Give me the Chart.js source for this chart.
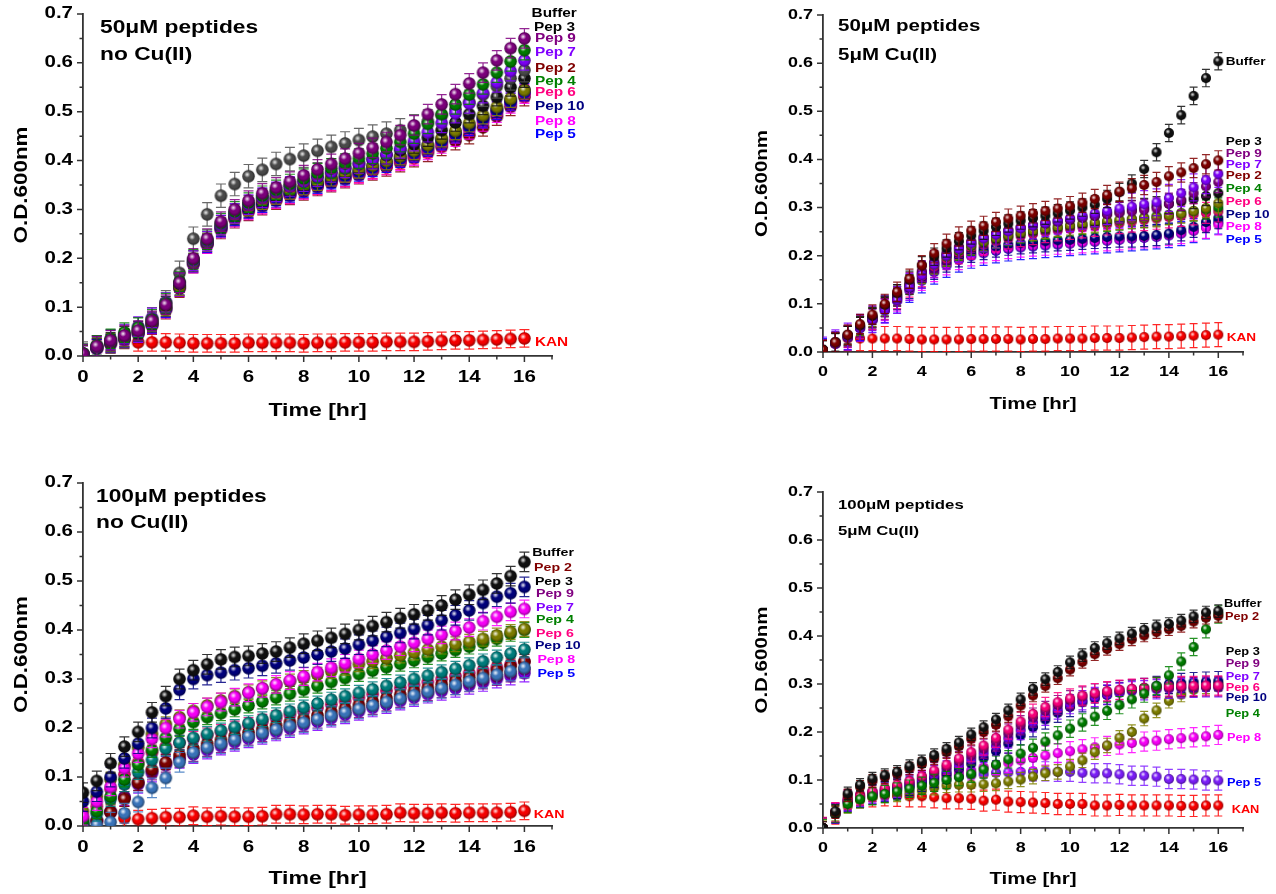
<!DOCTYPE html>
<html>
<head>
<meta charset="utf-8">
<title>Growth curves</title>
<script src="https://cdn.jsdelivr.net/npm/chart.js@4.4.1/dist/chart.umd.min.js"></script>
<style>
  html, body { margin: 0; padding: 0; background: #ffffff; }
  #wrap { position: relative; width: 1276px; height: 894px; overflow: hidden; background: #ffffff; }
  #wrap canvas { position: absolute; }
</style>
</head>
<body>
<div id="wrap">
  <canvas id="c50" width="620" height="440" style="left:0px;top:0px;width:620px;height:440px;"></canvas>
  <canvas id="c50cu" width="536" height="440" style="left:740px;top:0px;width:536px;height:440px;"></canvas>
  <canvas id="c100" width="620" height="447" style="left:0px;top:447px;width:620px;height:447px;"></canvas>
  <canvas id="c100cu" width="536" height="447" style="left:740px;top:447px;width:536px;height:447px;"></canvas>
</div>
<script>
// ---- sampling times (hours) and axis ticks ----
const hours = [0,0.5,1,1.5,2,2.5,3,3.5,4,4.5,5,5.5,6,6.5,7,7.5,8,8.5,9,9.5,10,10.5,11,11.5,12,12.5,13,13.5,14,14.5,15,15.5,16];
const xTickValues = [0,2,4,6,8,10,12,14,16];
const xMinorValues = [1,3,5,7,9,11,13,15,17];
const yTickValues = [0,0.1,0.2,0.3,0.4,0.5,0.6,0.7];
const yMinorValues = [0.05,0.15,0.25,0.35,0.45,0.55,0.65];

// ---- 50 uM peptides, no Cu(II): OD600 ----
const a_kan   = [null,null,null,null,0.028,0.028,0.028,0.027,0.026,0.026,0.026,0.026,0.027,0.027,0.027,0.027,0.026,0.027,0.027,0.028,0.028,0.028,0.029,0.029,0.029,0.030,0.031,0.032,0.032,0.033,0.034,0.035,0.036];
const a_pep2  = [0.003,0.015,0.024,0.033,0.045,0.062,0.094,0.138,0.188,0.228,0.258,0.280,0.295,0.307,0.318,0.328,0.337,0.346,0.354,0.362,0.370,0.378,0.386,0.395,0.405,0.416,0.428,0.440,0.452,0.468,0.490,0.510,0.530];
const a_pep8  = [0.003,0.015,0.025,0.035,0.046,0.064,0.096,0.140,0.188,0.228,0.260,0.282,0.297,0.309,0.320,0.330,0.339,0.348,0.356,0.364,0.372,0.380,0.389,0.398,0.408,0.420,0.433,0.447,0.462,0.478,0.496,0.515,0.535];
const a_pep6  = [0.003,0.016,0.026,0.036,0.048,0.066,0.098,0.140,0.190,0.230,0.262,0.284,0.299,0.311,0.321,0.331,0.340,0.349,0.357,0.365,0.373,0.381,0.390,0.400,0.411,0.424,0.438,0.453,0.468,0.485,0.502,0.520,0.538];
const a_pep5  = [0.003,0.016,0.026,0.036,0.047,0.065,0.097,0.141,0.190,0.230,0.262,0.285,0.300,0.312,0.323,0.333,0.342,0.351,0.360,0.368,0.376,0.385,0.394,0.404,0.415,0.427,0.440,0.454,0.469,0.485,0.502,0.520,0.540];
const a_pep10 = [0.004,0.017,0.027,0.037,0.049,0.067,0.099,0.143,0.192,0.232,0.264,0.287,0.302,0.315,0.326,0.336,0.345,0.354,0.363,0.371,0.380,0.389,0.398,0.408,0.419,0.431,0.444,0.458,0.473,0.489,0.506,0.524,0.545];
const a_pep1  = [0.004,0.018,0.028,0.038,0.050,0.068,0.100,0.142,0.192,0.232,0.266,0.289,0.305,0.318,0.329,0.339,0.348,0.357,0.366,0.374,0.382,0.390,0.399,0.409,0.420,0.432,0.446,0.461,0.477,0.493,0.510,0.527,0.544];
const a_pep3  = [0.005,0.019,0.030,0.042,0.053,0.072,0.104,0.148,0.197,0.236,0.270,0.293,0.310,0.324,0.336,0.347,0.357,0.366,0.375,0.384,0.393,0.402,0.411,0.421,0.433,0.447,0.462,0.478,0.495,0.512,0.530,0.550,0.568];
const a_buf   = [0.005,0.018,0.030,0.040,0.055,0.075,0.110,0.170,0.240,0.290,0.328,0.352,0.368,0.381,0.393,0.403,0.410,0.420,0.428,0.435,0.442,0.449,0.455,0.462,0.470,0.480,0.492,0.505,0.520,0.535,0.552,0.568,0.585];
const a_pep7  = [0.004,0.020,0.033,0.045,0.060,0.078,0.110,0.150,0.195,0.235,0.268,0.292,0.310,0.324,0.336,0.347,0.357,0.367,0.376,0.385,0.394,0.403,0.413,0.425,0.440,0.458,0.477,0.497,0.517,0.538,0.560,0.583,0.605];
const a_pep4  = [0.005,0.022,0.035,0.048,0.058,0.075,0.108,0.152,0.198,0.238,0.272,0.296,0.314,0.328,0.340,0.352,0.363,0.374,0.384,0.394,0.404,0.414,0.425,0.438,0.455,0.475,0.495,0.515,0.535,0.556,0.580,0.603,0.626];
const a_pep9  = [0.004,0.020,0.032,0.042,0.052,0.072,0.105,0.150,0.200,0.240,0.275,0.300,0.318,0.333,0.345,0.357,0.370,0.382,0.393,0.404,0.415,0.426,0.438,0.452,0.472,0.495,0.515,0.536,0.558,0.580,0.605,0.630,0.650];
const a_names  = ['KAN','Pep 2','Pep 8','Pep 6','Pep 5','Pep 10','Pep 1','Pep 3','Buffer','Pep 7','Pep 4','Pep 9'];
const a_values = [a_kan,a_pep2,a_pep8,a_pep6,a_pep5,a_pep10,a_pep1,a_pep3,a_buf,a_pep7,a_pep4,a_pep9];
const a_errors = [0.018,0.018,0.018,0.018,0.018,0.018,0.018,0.018,0.024,0.020,0.020,0.020];

// ---- 50 uM peptides, 5 uM Cu(II) ----
const b_kan   = [null,null,0.028,0.028,0.028,0.028,0.028,0.027,0.026,0.026,0.026,0.026,0.027,0.027,0.027,0.027,0.026,0.027,0.027,0.028,0.028,0.028,0.029,0.029,0.029,0.030,0.031,0.032,0.032,0.033,0.034,0.035,0.036];
const b_pep5  = [0.003,0.017,0.030,0.049,0.066,0.086,0.106,0.128,0.148,0.166,0.180,0.191,0.199,0.205,0.210,0.214,0.217,0.219,0.221,0.223,0.225,0.227,0.229,0.231,0.233,0.235,0.237,0.239,0.242,0.246,0.252,0.260,0.270];
const b_pep8  = [0.003,0.017,0.031,0.050,0.067,0.087,0.107,0.130,0.150,0.168,0.182,0.193,0.201,0.207,0.212,0.216,0.219,0.221,0.223,0.225,0.226,0.228,0.230,0.232,0.234,0.236,0.238,0.240,0.243,0.247,0.252,0.258,0.265];
const b_pep10 = [0.003,0.018,0.032,0.051,0.068,0.089,0.110,0.133,0.155,0.173,0.188,0.199,0.208,0.214,0.219,0.223,0.226,0.228,0.230,0.232,0.233,0.235,0.237,0.239,0.240,0.240,0.241,0.243,0.246,0.253,0.260,0.270,0.278];
const b_pep6  = [0.003,0.018,0.032,0.051,0.069,0.090,0.112,0.136,0.158,0.177,0.193,0.205,0.215,0.223,0.230,0.236,0.241,0.245,0.249,0.253,0.256,0.259,0.262,0.265,0.268,0.271,0.274,0.277,0.280,0.283,0.286,0.289,0.292];
const b_pep4  = [0.004,0.019,0.034,0.054,0.072,0.095,0.117,0.140,0.163,0.182,0.198,0.210,0.220,0.228,0.235,0.241,0.246,0.250,0.254,0.258,0.261,0.264,0.267,0.270,0.273,0.276,0.279,0.282,0.285,0.288,0.292,0.296,0.300];
const b_pep1  = [0.004,0.019,0.034,0.053,0.071,0.094,0.116,0.139,0.162,0.182,0.199,0.212,0.222,0.230,0.237,0.243,0.248,0.252,0.256,0.260,0.263,0.266,0.269,0.272,0.274,0.276,0.278,0.280,0.284,0.288,0.293,0.299,0.309];
const b_pep3  = [0.004,0.019,0.033,0.052,0.070,0.093,0.115,0.140,0.165,0.185,0.203,0.217,0.228,0.238,0.246,0.252,0.258,0.263,0.267,0.271,0.275,0.279,0.283,0.287,0.291,0.295,0.299,0.303,0.308,0.313,0.318,0.324,0.330];
const b_pep9  = [0.004,0.020,0.034,0.054,0.072,0.096,0.118,0.143,0.168,0.188,0.205,0.218,0.229,0.238,0.246,0.252,0.258,0.263,0.267,0.271,0.275,0.279,0.283,0.286,0.289,0.292,0.295,0.298,0.308,0.316,0.330,0.344,0.353];
const b_pep7  = [0.003,0.018,0.032,0.050,0.068,0.088,0.108,0.135,0.160,0.182,0.200,0.214,0.226,0.236,0.244,0.251,0.257,0.263,0.268,0.273,0.278,0.283,0.288,0.293,0.298,0.302,0.307,0.311,0.320,0.330,0.342,0.357,0.370];
const b_buf   = [0.005,0.020,0.035,0.055,0.075,0.098,0.122,0.150,0.180,0.198,0.215,0.230,0.242,0.252,0.260,0.267,0.273,0.278,0.283,0.288,0.294,0.300,0.306,0.318,0.332,0.350,0.380,0.415,0.455,0.492,0.532,0.569,0.604];
const b_pep2  = [0.004,0.020,0.036,0.058,0.078,0.100,0.125,0.152,0.180,0.205,0.225,0.240,0.252,0.262,0.270,0.277,0.283,0.288,0.293,0.298,0.303,0.310,0.318,0.326,0.333,0.340,0.347,0.353,0.365,0.373,0.382,0.390,0.398];
const b_names  = ['KAN','Pep 5','Pep 8','Pep 10','Pep 6','Pep 4','Pep 1','Pep 3','Pep 9','Pep 7','Buffer','Pep 2'];
const b_values = [b_kan,b_pep5,b_pep8,b_pep10,b_pep6,b_pep4,b_pep1,b_pep3,b_pep9,b_pep7,b_buf,b_pep2];
const b_errors = [0.025,0.025,0.022,0.022,0.022,0.020,0.020,0.020,0.022,0.028,0.018,0.020];

// ---- 100 uM peptides, no Cu(II) ----
const c_kan   = [null,null,0.029,0.016,0.014,0.016,0.018,0.018,0.021,0.019,0.020,0.019,0.019,0.020,0.024,0.024,0.023,0.024,0.024,0.022,0.023,0.023,0.024,0.027,0.026,0.026,0.027,0.026,0.027,0.027,0.027,0.028,0.031];
const c_pep6  = [0.015,0.040,0.075,0.105,0.130,0.150,0.162,0.170,0.178,0.185,0.192,0.199,0.206,0.213,0.220,0.227,0.234,0.241,0.248,0.255,0.262,0.269,0.276,0.282,0.288,0.294,0.300,0.306,0.312,0.318,0.324,0.330,0.336];
const c_pep7  = [0.002,0.010,0.028,0.060,0.085,0.108,0.124,0.136,0.146,0.155,0.163,0.171,0.178,0.185,0.192,0.199,0.206,0.213,0.220,0.227,0.234,0.241,0.248,0.255,0.262,0.269,0.275,0.281,0.287,0.293,0.300,0.306,0.312];
const c_pep9  = [0.003,0.012,0.030,0.058,0.090,0.112,0.128,0.138,0.150,0.160,0.168,0.176,0.183,0.190,0.197,0.204,0.211,0.218,0.225,0.232,0.239,0.246,0.253,0.260,0.267,0.274,0.280,0.286,0.292,0.298,0.305,0.312,0.320];
const c_pep2  = [0.002,0.010,0.028,0.055,0.088,0.115,0.130,0.145,0.158,0.168,0.176,0.184,0.191,0.198,0.205,0.212,0.219,0.226,0.233,0.240,0.247,0.254,0.261,0.268,0.275,0.282,0.289,0.296,0.303,0.310,0.318,0.326,0.335];
const c_pep5  = [0.000,0.002,0.008,0.026,0.049,0.078,0.098,0.130,0.150,0.160,0.168,0.176,0.183,0.190,0.197,0.204,0.211,0.218,0.225,0.232,0.239,0.246,0.253,0.260,0.267,0.274,0.281,0.288,0.295,0.302,0.309,0.316,0.323];
const c_pep3  = [0.008,0.025,0.055,0.085,0.110,0.135,0.158,0.170,0.180,0.188,0.195,0.202,0.210,0.218,0.226,0.234,0.242,0.250,0.258,0.265,0.272,0.279,0.286,0.293,0.300,0.307,0.314,0.321,0.328,0.336,0.344,0.352,0.360];
const c_pep4  = [0.010,0.030,0.060,0.095,0.125,0.155,0.180,0.198,0.212,0.222,0.230,0.238,0.246,0.254,0.262,0.270,0.278,0.286,0.294,0.302,0.310,0.317,0.324,0.331,0.338,0.345,0.352,0.359,0.366,0.374,0.382,0.392,0.400];
const c_pep1  = [0.030,0.060,0.095,0.125,0.160,0.188,0.208,0.222,0.235,0.246,0.256,0.265,0.273,0.281,0.288,0.295,0.302,0.309,0.316,0.323,0.330,0.336,0.342,0.348,0.354,0.360,0.366,0.371,0.376,0.382,0.389,0.396,0.402];
const c_pep8  = [0.020,0.050,0.080,0.118,0.148,0.178,0.200,0.218,0.232,0.243,0.253,0.263,0.272,0.281,0.289,0.297,0.305,0.314,0.323,0.332,0.341,0.350,0.358,0.366,0.374,0.382,0.390,0.398,0.405,0.418,0.427,0.437,0.443];
const c_pep10 = [0.050,0.070,0.100,0.138,0.168,0.200,0.240,0.278,0.300,0.308,0.313,0.318,0.322,0.327,0.332,0.338,0.344,0.350,0.356,0.362,0.370,0.378,0.386,0.394,0.402,0.410,0.420,0.430,0.440,0.455,0.468,0.475,0.488];
const c_buf   = [0.068,0.092,0.128,0.162,0.192,0.232,0.265,0.300,0.318,0.330,0.340,0.345,0.347,0.352,0.356,0.364,0.372,0.378,0.384,0.392,0.400,0.408,0.416,0.424,0.432,0.440,0.450,0.462,0.472,0.482,0.495,0.510,0.539];
const c_names  = ['KAN','Pep 6','Pep 7','Pep 9','Pep 2','Pep 5','Pep 3','Pep 4','Pep 1','Pep 8','Pep 10','Buffer'];
const c_values = [c_kan,c_pep6,c_pep7,c_pep9,c_pep2,c_pep5,c_pep3,c_pep4,c_pep1,c_pep8,c_pep10,c_buf];
const c_errors = [0.018,0.015,0.018,0.018,0.015,0.020,0.015,0.015,0.015,0.018,0.020,0.020];

// ---- 100 uM peptides, 5 uM Cu(II) ----
const d_kan   = [0.000,0.030,0.055,0.064,0.066,0.068,0.067,0.066,0.066,0.064,0.062,0.062,0.061,0.057,0.059,0.055,0.054,0.053,0.052,0.050,0.050,0.050,0.047,0.047,0.048,0.047,0.047,0.047,0.047,0.046,0.046,0.047,0.047];
const d_pep5  = [0.000,0.030,0.055,0.065,0.070,0.075,0.080,0.085,0.090,0.097,0.103,0.107,0.110,0.112,0.115,0.116,0.117,0.118,0.118,0.117,0.117,0.115,0.114,0.114,0.112,0.109,0.109,0.107,0.102,0.102,0.101,0.099,0.099];
const d_pep8  = [0.000,0.032,0.060,0.070,0.075,0.080,0.085,0.090,0.098,0.104,0.110,0.115,0.120,0.126,0.131,0.136,0.141,0.146,0.151,0.156,0.160,0.164,0.168,0.171,0.174,0.177,0.180,0.182,0.185,0.187,0.189,0.191,0.194];
const d_pep1  = [0.000,0.030,0.046,0.058,0.064,0.068,0.070,0.074,0.078,0.084,0.089,0.090,0.090,0.091,0.093,0.097,0.101,0.107,0.114,0.117,0.128,0.141,0.158,0.172,0.188,0.200,0.228,0.245,0.265,0.278,0.288,0.295,0.300];
const d_pep10 = [0.000,0.030,0.055,0.063,0.070,0.076,0.081,0.088,0.096,0.104,0.113,0.123,0.134,0.146,0.160,0.176,0.193,0.210,0.226,0.240,0.252,0.262,0.270,0.277,0.283,0.288,0.292,0.296,0.300,0.302,0.304,0.305,0.306];
const d_pep7  = [0.000,0.031,0.056,0.064,0.072,0.078,0.084,0.092,0.100,0.110,0.120,0.131,0.143,0.156,0.171,0.187,0.204,0.220,0.234,0.247,0.258,0.266,0.273,0.278,0.282,0.285,0.287,0.289,0.290,0.291,0.292,0.293,0.293];
const d_pep9  = [0.000,0.032,0.058,0.067,0.075,0.081,0.087,0.096,0.106,0.116,0.127,0.139,0.151,0.165,0.180,0.197,0.214,0.230,0.244,0.256,0.266,0.274,0.280,0.284,0.287,0.289,0.291,0.292,0.293,0.294,0.294,0.295,0.295];
const d_pep6  = [0.000,0.033,0.060,0.068,0.076,0.083,0.090,0.098,0.108,0.120,0.132,0.145,0.158,0.172,0.188,0.205,0.222,0.238,0.252,0.262,0.270,0.276,0.281,0.285,0.288,0.290,0.292,0.294,0.295,0.296,0.296,0.297,0.297];
const d_pep4  = [0.000,0.030,0.050,0.060,0.066,0.071,0.076,0.082,0.088,0.094,0.100,0.106,0.113,0.122,0.132,0.143,0.155,0.167,0.180,0.193,0.207,0.220,0.232,0.244,0.256,0.268,0.280,0.296,0.318,0.347,0.377,0.414,0.445];
const d_pep2  = [0.000,0.033,0.068,0.086,0.098,0.106,0.113,0.124,0.133,0.145,0.158,0.170,0.186,0.200,0.215,0.233,0.255,0.276,0.296,0.312,0.330,0.346,0.362,0.373,0.383,0.393,0.401,0.408,0.414,0.421,0.430,0.438,0.442];
const d_buf   = [0.000,0.035,0.072,0.090,0.103,0.110,0.117,0.129,0.139,0.152,0.165,0.178,0.195,0.210,0.226,0.245,0.268,0.290,0.310,0.325,0.345,0.360,0.375,0.385,0.395,0.405,0.413,0.420,0.425,0.432,0.441,0.449,0.452];
const d_names  = ['KAN','Pep 5','Pep 8','Pep 1','Pep 10','Pep 7','Pep 9','Pep 6','Pep 4','Pep 2','Buffer'];
const d_values = [d_kan,d_pep5,d_pep8,d_pep1,d_pep10,d_pep7,d_pep9,d_pep6,d_pep4,d_pep2,d_buf];
const d_errors = [0.022,0.020,0.020,0.015,0.020,0.020,0.020,0.020,0.018,0.013,0.013];

// ---- end-of-curve labels ----
const labelText = ['Buffer','Pep 3','Pep 9','Pep 7','Pep 2','Pep 4','Pep 6','Pep 10','Pep 8','Pep 5','KAN'];
const labelText100 = ['Buffer','Pep 2','Pep 3','Pep 9','Pep 7','Pep 4','Pep 6','Pep 10','Pep 8','Pep 5','KAN'];
const labelText100cu = ['Buffer','Pep 2','Pep 3','Pep 9','Pep 7','Pep 6','Pep 10','Pep 4','Pep 8','Pep 5','KAN'];

// ---------------- styling ----------------
const FONT = "'Liberation Sans', Arial, Helvetica, sans-serif";
const TEXT_STRETCH = 1.28;   // wide lettering
const AXIS_COLOR = '#333333';

const markerColor = {
  'Buffer': '#111111', 'Pep 1': '#808000', 'Pep 2': '#800000', 'Pep 3': '#111111',
  'Pep 4': '#008000', 'Pep 5': '#0000ff', 'Pep 6': '#ff0080', 'Pep 7': '#8000ff',
  'Pep 8': '#ff00ff', 'Pep 9': '#800080', 'Pep 10': '#000080', 'KAN': '#ff0000'
};
const labelColor = {
  'Buffer': '#000000', 'Pep 2': '#800000', 'Pep 3': '#000000', 'Pep 4': '#008000',
  'Pep 5': '#0000ff', 'Pep 6': '#ff0080', 'Pep 7': '#8000ff', 'Pep 8': '#ff00ff',
  'Pep 9': '#800080', 'Pep 10': '#000080', 'KAN': '#ff0000'
};

Chart.defaults.font.family = FONT;
Chart.defaults.font.weight = 'bold';
Chart.defaults.color = '#000';

// shaded sphere marker
function ball(color, r) {
  const s = Math.ceil(2 * r + 2);
  const c = document.createElement('canvas');
  c.width = s; c.height = s;
  const g = c.getContext('2d');
  const m = s / 2;
  g.beginPath(); g.arc(m, m, r, 0, Math.PI * 2);
  g.fillStyle = color; g.fill();
  const shade = g.createRadialGradient(m - r * 0.25, m - r * 0.3, r * 0.15, m, m, r);
  shade.addColorStop(0, 'rgba(0,0,0,0)');
  shade.addColorStop(0.65, 'rgba(0,0,0,0.06)');
  shade.addColorStop(1, 'rgba(0,0,0,0.45)');
  g.fillStyle = shade; g.fill();
  const hx = m - r * 0.22, hy = m - r * 0.28;
  const hi = g.createRadialGradient(hx, hy, 0, hx, hy, r * 0.5);
  hi.addColorStop(0, 'rgba(255,255,255,0.95)');
  hi.addColorStop(1, 'rgba(255,255,255,0)');
  g.fillStyle = hi; g.fill();
  return c;
}

// text drawn with horizontal stretch around its anchor point
function stretchText(ctx) {
  const fill = ctx.fillText.bind(ctx);
  ctx.fillText = function (text, x, y) {
    this.save();
    this.translate(x, y);
    this.scale(TEXT_STRETCH, 1);
    fill(text, 0, 0);
    this.restore();
  };
}

// vertical error bars, drawn just beneath each dataset's markers
function errorBars(cap) {
  return {
    id: 'errorBars',
    beforeDatasetDraw(chart, args) {
      const ds = chart.data.datasets[args.index];
      const { ctx, chartArea: a, scales: { x, y } } = chart;
      ctx.save();
      ctx.beginPath();
      ctx.rect(a.left, a.top, a.right - a.left, a.bottom - a.top);
      ctx.clip();
      ctx.strokeStyle = ds.errColor;
      ctx.globalAlpha = 0.85;
      ctx.lineWidth = 1.2;
      ctx.beginPath();
      ds.data.forEach(d => {
        if (d.y === null || d.y === undefined) return;
        const px = x.getPixelForValue(d.x);
        const t = y.getPixelForValue(d.y + ds.err);
        const b = y.getPixelForValue(d.y - ds.err);
        ctx.moveTo(px, t); ctx.lineTo(px, b);
        ctx.moveTo(px - cap, t); ctx.lineTo(px + cap, t);
        ctx.moveTo(px - cap, b); ctx.lineTo(px + cap, b);
      });
      ctx.stroke();
      ctx.restore();
    }
  };
}

// outward major/minor tick marks on both axes
const tickMarks = {
  id: 'tickMarks',
  afterDraw(chart) {
    const { ctx, chartArea: a, scales: { x, y } } = chart;
    ctx.save();
    ctx.strokeStyle = AXIS_COLOR;
    ctx.lineWidth = 1.5;
    ctx.beginPath();
    const xt = (v, len) => { const p = x.getPixelForValue(v); ctx.moveTo(p, a.bottom); ctx.lineTo(p, a.bottom + len); };
    const yt = (v, len) => { const p = y.getPixelForValue(v); ctx.moveTo(a.left, p); ctx.lineTo(a.left - len, p); };
    xTickValues.forEach(v => xt(v, 6));
    xMinorValues.forEach(v => xt(v, 3.5));
    yTickValues.forEach(v => yt(v, 6));
    yMinorValues.forEach(v => yt(v, 3.5));
    ctx.stroke();
    ctx.restore();
  }
};

// panel heading and colored series names
function annotate(p) {
  return {
    id: 'annotate',
    afterDraw(chart) {
      const { ctx, chartArea: a, scales: { x, y } } = chart;
      ctx.save();
      ctx.fillStyle = '#000';
      ctx.textAlign = 'left';
      ctx.textBaseline = 'alphabetic';
      ctx.font = `bold ${p.headSize}px ${FONT}`;
      p.heading.forEach((line, i) => ctx.fillText(line, a.left + p.headX, a.top + p.headY[i]));
      ctx.font = `bold ${p.labelSize}px ${FONT}`;
      ctx.textBaseline = 'middle';
      p.labels.forEach((t, i) => {
        ctx.fillStyle = labelColor[t];
        ctx.fillText(t, x.getPixelForValue(p.labelX[i]), y.getPixelForValue(p.labelY[i]));
      });
      ctx.restore();
    }
  };
}

function makePanel(p) {
  const canvas = document.getElementById(p.id);
  const ctx = canvas.getContext('2d');
  stretchText(ctx);
  const n = p.names.length;
  const datasets = p.names.map((name, i) => {
    const color = (p.colorOverride && p.colorOverride[name]) || markerColor[name];
    return {
      label: name,
      data: hours.map((h, k) => ({ x: h, y: p.values[i][k] })),
      err: p.errors[i],
      errColor: color,
      pointStyle: ball(color, p.r),
      pointRadius: p.r,
      pointHoverRadius: p.r,
      showLine: false,
      clip: 0,
      order: n - i
    };
  });
  return new Chart(ctx, {
    type: 'scatter',
    data: { datasets },
    options: {
      responsive: false,
      animation: false,
      events: [],
      layout: { padding: p.pad },
      plugins: { legend: { display: false }, tooltip: { enabled: false } },
      scales: {
        x: {
          type: 'linear', min: 0, max: 17,
          afterBuildTicks: s => { s.ticks = xTickValues.map(v => ({ value: v })); },
          afterFit: s => { s.height = p.xH; s.paddingLeft = 0; s.paddingRight = 0; },
          ticks: { autoSkip: false, maxRotation: 0, padding: p.xPad, color: '#000',
                   font: { size: p.tickSize, weight: 'bold', family: FONT },
                   callback: v => String(v) },
          grid: { display: false, drawTicks: false },
          border: { display: true, color: AXIS_COLOR, width: 1.8 },
          title: { display: true, text: 'Time [hr]', color: '#000', padding: 0,
                   font: { size: p.xTitleSize, weight: 'bold', family: FONT } }
        },
        y: {
          type: 'linear', min: 0, max: 0.7,
          afterBuildTicks: s => { s.ticks = yTickValues.map(v => ({ value: v })); },
          afterFit: s => { s.width = p.yW; s.paddingTop = 0; s.paddingBottom = 0; },
          ticks: { autoSkip: false, padding: 10, color: '#000',
                   font: { size: p.tickSize, weight: 'bold', family: FONT },
                   callback: v => v.toFixed(1) },
          grid: { display: false, drawTicks: false },
          border: { display: true, color: AXIS_COLOR, width: 1.8 },
          title: { display: true, text: 'O.D.600nm', color: '#000',
                   padding: { top: p.yTitlePad, bottom: 0 },
                   font: { size: p.yTitleSize, weight: 'bold', family: FONT } }
        }
      }
    },
    plugins: [errorBars(p.cap), tickMarks, annotate(p)]
  });
}

// ---------------- panels ----------------
makePanel({
  id: 'c50', names: a_names, values: a_values, errors: a_errors,
  colorOverride: { 'Buffer': '#4d4d4d' },
  pad: { left: 0, top: 14, right: 68, bottom: 18 }, yW: 83, xH: 66,
  tickSize: 16, xPad: 12, xTitleSize: 18, yTitleSize: 17.5, yTitlePad: 11.5,
  r: 6.2, cap: 5,
  heading: ['50\u03bcM peptides', 'no Cu(II)'], headSize: 17.8, headX: 17, headY: [19, 46],
  labels: labelText, labelSize: 12,
  labelX: [16.26,16.35,16.38,16.38,16.38,16.38,16.38,16.38,16.38,16.38,16.38],
  labelY: [0.700,0.673,0.649,0.620,0.589,0.561,0.538,0.510,0.479,0.454,0.027]
});

makePanel({
  id: 'c50cu', names: b_names, values: b_values, errors: b_errors,
  pad: { left: 0, top: 15, right: 33, bottom: 26 }, yW: 83, xH: 62,
  tickSize: 14, xPad: 11.5, xTitleSize: 16, yTitleSize: 16, yTitlePad: 13.4,
  r: 5, cap: 4,
  heading: ['50\u03bcM peptides', '5\u03bcM Cu(II)'], headSize: 16, headX: 15, headY: [16, 45],
  labels: labelText, labelSize: 10.6,
  labelX: [16.30,16.30,16.30,16.30,16.30,16.30,16.30,16.30,16.30,16.30,16.34],
  labelY: [0.603,0.437,0.411,0.388,0.366,0.339,0.312,0.285,0.260,0.233,0.028]
});

makePanel({
  id: 'c100', names: c_names, values: c_values, errors: c_errors,
  colorOverride: { 'Pep 3': '#008080', 'Pep 5': '#3c78c0' },
  pad: { left: 0, top: 36, right: 68, bottom: 4 }, yW: 83, xH: 64,
  tickSize: 16, xPad: 12, xTitleSize: 18, yTitleSize: 17.5, yTitlePad: 11.5,
  r: 6.2, cap: 5,
  heading: ['100\u03bcM peptides', 'no Cu(II)'], headSize: 17.8, headX: 13, headY: [19, 45],
  labels: labelText100, labelSize: 11.1,
  labelX: [16.28,16.35,16.38,16.42,16.42,16.42,16.42,16.38,16.47,16.47,16.34],
  labelY: [0.557,0.527,0.498,0.473,0.445,0.420,0.392,0.368,0.339,0.310,0.022]
});

makePanel({
  id: 'c100cu', names: d_names, values: d_values, errors: d_errors,
  colorOverride: { 'Pep 5': '#7f1fff' },
  pad: { left: 0, top: 45, right: 33, bottom: 5 }, yW: 83, xH: 61,
  tickSize: 14, xPad: 12, xTitleSize: 16, yTitleSize: 16, yTitlePad: 13.4,
  r: 5, cap: 4,
  heading: ['100\u03bcM peptides', '5\u03bcM Cu(II)'], headSize: 13.1, headX: 15, headY: [17, 43],
  labels: labelText100cu, labelSize: 10,
  labelX: [16.23,16.27,16.30,16.30,16.30,16.30,16.30,16.30,16.35,16.35,16.54],
  labelY: [0.467,0.440,0.367,0.341,0.315,0.291,0.270,0.237,0.188,0.093,0.0375]
});
</script>
</body>
</html>
